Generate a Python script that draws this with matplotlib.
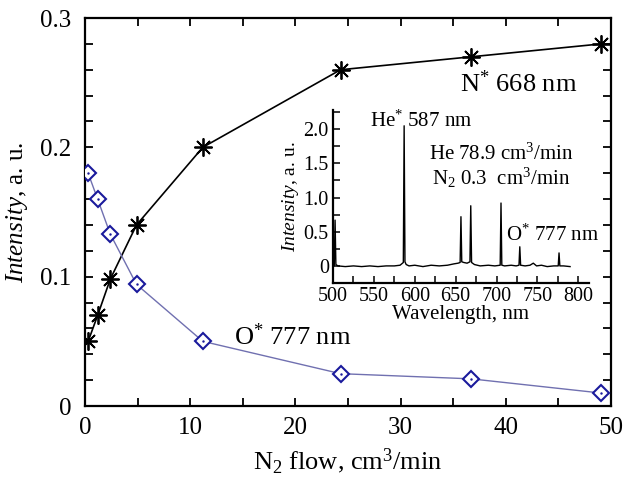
import matplotlib
matplotlib.use('Agg')
import matplotlib.pyplot as plt
from matplotlib.ticker import MultipleLocator

plt.rcParams['font.family'] = 'Liberation Serif'
plt.rcParams['mathtext.fontset'] = 'custom'
plt.rcParams['mathtext.rm'] = 'Liberation Serif'
plt.rcParams['mathtext.it'] = 'Liberation Serif:italic'

# main data: emission intensity vs N2 flow
flow = [0.3, 1.2, 2.4, 4.9, 11.2, 24.3, 36.7, 49.1]
n_668 = [0.050, 0.070, 0.098, 0.140, 0.200, 0.260, 0.270, 0.280]
o_777 = [0.180, 0.160, 0.133, 0.094, 0.050, 0.025, 0.021, 0.010]

# inset spectrum
spec_wl = [500, 501.5, 502.5, 503.5, 506, 515, 525, 535, 545, 555, 565, 575, 582,
           586, 587, 588, 589.5, 593, 600, 610, 620, 630, 640, 648, 653,
           655.5, 656.5, 657.5, 660, 664, 667.5, 668.5, 669.5, 673, 680, 690,
           698, 704.5, 705.5, 706.5, 710, 718, 724, 727.5, 728.5, 729.5, 735,
           741, 745, 749, 755, 762, 770, 775.5, 776.5, 777.5, 782, 790]
spec_int = [0.0, 0.0, 0.67, 0.02, 0.0, -0.01, 0.0, -0.01, 0.0, -0.01, 0.0, 0.0, 0.01,
            0.05, 2.05, 0.06, 0.02, 0.0, 0.01, -0.01, 0.01, 0.0, 0.01, 0.03, 0.04,
            0.05, 0.72, 0.06, 0.05, 0.04, 0.06, 0.88, 0.05, 0.02, 0.0, 0.01,
            0.0, 0.01, 0.92, 0.01, 0.0, 0.01, 0.0, 0.01, 0.28, 0.01, 0.0,
            0.01, 0.04, 0.0, 0.01, -0.01, 0.0, 0.0, 0.19, 0.0, 0.0, -0.01]

fig = plt.figure(figsize=(6.24, 4.79), dpi=100)
ax = fig.add_axes([0.1362, 0.1524, 0.8428, 0.81])

ax.plot(flow, n_668, color='black', lw=1.2, marker=(8, 2, 0), ms=13, mew=1.3, zorder=3)
ax.plot(flow, o_777, color='#7070b0', lw=1.0, marker='D', ms=8, mfc='white',
        mec='#1a1a9c', mew=1.5, zorder=3)
ax.plot(flow, o_777, ls='none', marker='.', ms=1.5, color='#1a1a9c', zorder=4)

ax.set_xlim(0, 50)
ax.set_ylim(0, 0.3)
ax.xaxis.set_major_locator(MultipleLocator(10))
ax.xaxis.set_minor_locator(MultipleLocator(5))
ax.yaxis.set_major_locator(MultipleLocator(0.1))
ax.yaxis.set_minor_locator(MultipleLocator(0.02))
ax.set_yticks([0, 0.1, 0.2, 0.3], ['0', '0.1', '0.2', '0.3'])
ax.tick_params(which='both', direction='in', top=True, right=True, length=6, width=1.3,
               labelsize=18)
ax.tick_params(axis='x', pad=8)
ax.tick_params(axis='y', pad=10)
for s in ax.spines.values():
    s.set_linewidth(1.6)
ax.set_xlabel(r'N$_2$ flow, cm$^3$/min', fontsize=19, labelpad=5)
ax.set_ylabel(r'$\mathit{Intensity}$, a. u.', fontsize=18, labelpad=7)

ax.text(41.2, 0.249, r'N$^{*}$ 668 nm', fontsize=19, ha='center', va='center')
ax.text(19.7, 0.054, r'O$^{*}$ 777 nm', fontsize=19, ha='center', va='center')

# inset
ins = fig.add_axes([0.5337, 0.4092, 0.410, 0.361])
ins.plot(spec_wl, spec_int, color='black', lw=1.0)
ins.set_xlim(500, 813)
ins.set_ylim(-0.25, 2.28)
ins.spines['top'].set_visible(False)
ins.spines['right'].set_visible(False)
for s in ['left', 'bottom']:
    ins.spines[s].set_linewidth(1.6)
ins.xaxis.set_major_locator(MultipleLocator(50))
ins.xaxis.set_minor_locator(MultipleLocator(25))
ins.set_yticks([0, 0.5, 1.0, 1.5, 2.0], ['0', '0.5', '1.0', '1.5', '2.0'])
ins.yaxis.set_minor_locator(MultipleLocator(0.25))
ins.tick_params(which='both', direction='in', length=5, width=1.1, labelsize=14.5, pad=3)
ins.set_xlabel('Wavelength, nm', fontsize=15, labelpad=-1)
ins.set_ylabel(r'$\mathit{Intensity}$, a. u.', fontsize=14, labelpad=2)

ins.text(608, 2.12, r'He$^{*}$ 587 nm', fontsize=15, ha='center', va='center')
ins.text(706, 1.64, r'He 78.9 cm$^3$/min', fontsize=15, ha='center', va='center')
ins.text(706, 1.29, r'N$_2$ 0.3  cm$^3$/min', fontsize=15, ha='center', va='center')
ins.text(768, 0.45, r'O$^{*}$ 777 nm', fontsize=15, ha='center', va='center')

fig.savefig('out.png', dpi=100)
